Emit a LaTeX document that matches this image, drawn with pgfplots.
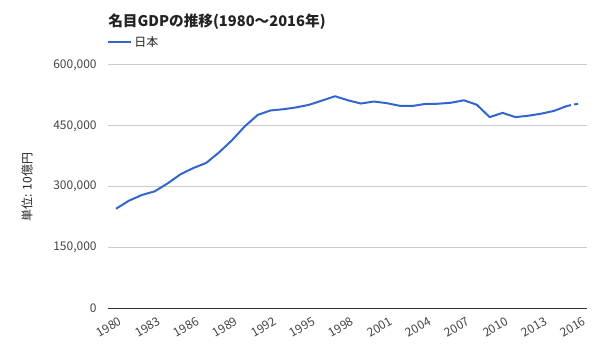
\documentclass[border=0pt]{standalone}
\usepackage{fontspec}
\setmainfont{Noto Sans CJK JP}
\usepackage{pgfplots}
\pgfplotsset{compat=1.18}
\definecolor{gblue}{HTML}{3366CC}
\definecolor{gridc}{HTML}{CCCCCC}
\definecolor{labc}{HTML}{444444}
\definecolor{titc}{HTML}{222222}
\begin{document}
\begin{tikzpicture}
\useasboundingbox (0pt,0pt) rectangle (450pt,270pt);
\begin{axis}[
  at={(81pt,38.7pt)}, anchor=south west,
  scale only axis, width=359.25pt, height=182.55pt,
  xmin=1979.38, xmax=2016.55, ymin=0, ymax=600000,
  axis line style={draw=none},
  xtick={1980,1983,...,2016},
  ytick={0,150000,300000,450000,600000},
  major tick length=0pt,
  ymajorgrids, grid style={gridc, line width=0.75pt},
  font=\fontsize{9}{10}\selectfont,
  /pgf/number format/assume math mode=true,
  scaled y ticks=false,
  yticklabel style={color=labc, xshift=-5pt},
  xticklabel style={color=labc, rotate=30, anchor=east, yshift=-9.5pt, xshift=2pt,
    /pgf/number format/1000 sep={}},
  y tick label style={/pgf/number format/.cd, fixed, 1000 sep={,}},
  legend style={at={(0,1)}, anchor=south west, draw=none, fill=none,
    xshift=-4pt, yshift=8.5pt, font=\fontsize{9}{10}\selectfont, text=titc},
  legend cell align=left,
  legend image code/.code={\draw[#1] (0pt,0pt) -- (17pt,0pt);},
  clip=false,
]
\draw[color=black!80, line width=0.75pt] (axis cs:1979.38,0) -- (axis cs:2016.55,0);
\addplot[gblue, line width=1.5pt, line join=round] coordinates {
(1980,245600) (1981,265400) (1982,279500) (1983,288500) (1984,308000)
(1985,330500) (1986,346000) (1987,358500) (1988,384700) (1989,414400)
(1990,449000) (1991,477000) (1992,488000) (1993,491000) (1994,495500)
(1995,502000) (1996,512500) (1997,523000) (1998,513000) (1999,505000)
(2000,510000) (2001,506000) (2002,499500) (2003,499000) (2004,504000)
(2005,504500) (2006,507000) (2007,513000) (2008,502000) (2009,471500)
(2010,482000) (2011,471500) (2012,475000) (2013,480000) (2014,487000)
(2015,499000)
};
\addlegendentry{日本}
\addplot[gblue, line width=1.5pt, dash pattern=on 3pt off 2.5pt, forget plot] coordinates {
(2015,499000) (2016,505500)
};
\end{axis}
\node[anchor=west, inner sep=0pt, text=titc, font=\fontsize{11}{13}\selectfont\bfseries] at (81pt,254pt) {名目GDPの推移(1980～2016年)};
\node[rotate=90, inner sep=0pt, text=titc, font=\fontsize{9}{10}\selectfont] at (20.25pt,129.75pt) {単位: 10億円};
\end{tikzpicture}
\end{document}
